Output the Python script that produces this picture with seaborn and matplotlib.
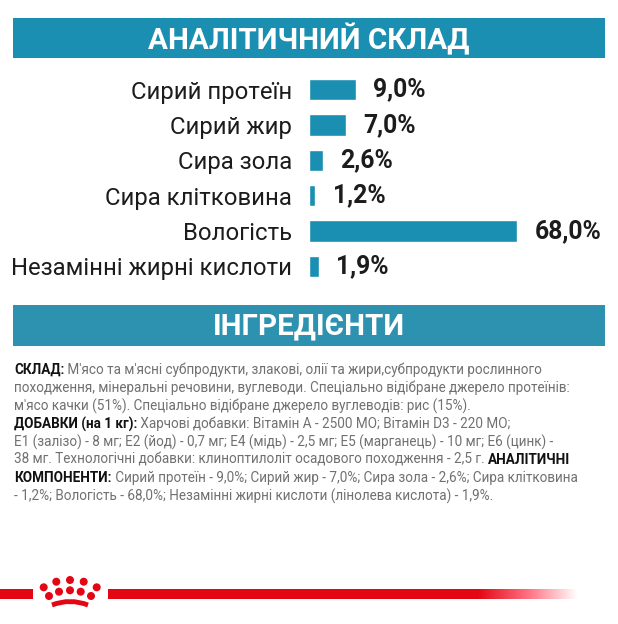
"""
Analytical composition panel: two banners, bar chart, ingredient text, red band.
"""

import numpy as np
import pandas as pd
import matplotlib
matplotlib.use("Agg")
import matplotlib.pyplot as plt
from matplotlib.colors import LinearSegmentedColormap
from matplotlib.patches import Circle, Rectangle, PathPatch
from matplotlib.path import Path
import seaborn as sns

# Chart data
CATEGORIES = [
    "Сирий протеїн",
    "Сирий жир",
    "Сира зола",
    "Сира клітковина",
    "Вологість",
    "Незамінні жирні кислоти",
]
VALUES = [9.0, 7.0, 2.6, 1.2, 68.0, 1.9]
VALUE_LABELS = ["9,0%", "7,0%", "2,6%", "1,2%", "68,0%", "1,9%"]

HEADER_TOP = "АНАЛІТИЧНИЙ СКЛАД"
HEADER_BOTTOM = "ІНГРЕДІЄНТИ"

# Each line is a list of (text, is_bold) runs
BODY_LINES = [
    [("СКЛАД:", True), (" М'ясо та м'ясні субпродукти, злакові, олії та жири,субпродукти рослинного", False)],
    [("походження, мінеральні речовини, вуглеводи. Спеціально відібране джерело протеїнів:", False)],
    [("м'ясо качки (51%). Спеціально відібране джерело вуглеводів: рис (15%).", False)],
    [("ДОБАВКИ (на 1 кг):", True), (" Харчові добавки: Вітамін А - 2500 МО; Вітамін D3 - 220 МО;", False)],
    [("E1 (залізо) - 8 мг; E2 (йод) - 0,7 мг; E4 (мідь) - 2,5 мг; E5 (марганець) - 10 мг; E6 (цинк) -", False)],
    [("38 мг. Технологічні добавки: клиноптилоліт осадового походження - 2,5 г. ", False), ("АНАЛІТИЧНІ", True)],
    [("КОМПОНЕНТИ:", True), (" Сирий протеїн - 9,0%; Сирий жир - 7,0%; Сира зола - 2,6%; Сира клітковина", False)],
    [("- 1,2%; Вологість - 68,0%; Незамінні жирні кислоти (лінолева кислота) - 1,9%.", False)],
]

# Crown dots of the logo, in image pixels
CROWN_DOTS = [
    (43.7, 587.3), (56.3, 581.7), (70.0, 580.0), (83.7, 581.7), (96.7, 587.3),
    (49.0, 596.0), (59.0, 591.7), (70.0, 590.3), (80.7, 591.7), (91.0, 596.0),
]

# Style
WIDTH, HEIGHT = 618, 624
BLUE = "#1a8fb1"
BLUE_SOFT = "#2c92b0"
RED = "#e30613"
GREY = "#707070"
FONT = "Roboto"


def bar_scale(x):
    # The picture's bars are not proportional: 68% is cut short
    return np.interp(x, [0, 9, 68], [0, 47, 208])


def bar_scale_inv(x):
    return np.interp(x, [0, 47, 208], [0, 9, 68])


def draw_bars(fig):
    left, right = 309, 517
    top, bottom = 72, 284
    ax = fig.add_axes([left / WIDTH, 1 - bottom / HEIGHT,
                       (right - left) / WIDTH, (bottom - top) / HEIGHT])
    df = pd.DataFrame({"name": CATEGORIES, "value": VALUES})
    sns.barplot(data=df, y="name", x="value", color=BLUE, saturation=1,
                width=0.6, ax=ax)
    ax.set_xscale("function", functions=(bar_scale, bar_scale_inv))
    ax.set_xlim(0, 68)
    ax.set_xlabel("")
    ax.set_ylabel("")
    sns.despine(ax=ax, left=True, bottom=True)
    ax.set_xticks([])
    ax.minorticks_off()
    ax.tick_params(axis="y", length=0, pad=12, labelsize=17.2, labelcolor="#1c1c1c")
    for tick in ax.get_yticklabels():
        tick.set_fontfamily(FONT)
        tick.set_y(tick.get_position()[1])
    for i, (val, lab) in enumerate(zip(VALUES, VALUE_LABELS)):
        ax.annotate(lab, (val, i), xytext=(12.5, 0), textcoords="offset points",
                    va="center", ha="left", fontsize=17.8, fontweight="bold",
                    family=FONT, color="#1c1c1c", annotation_clip=False)
    return ax


def draw_banner(ax, y0, y1, text, color):
    ax.add_patch(Rectangle((13, y0), 592, y1 - y0, color=color, lw=0))
    ax.text(309, (y0 + y1) / 2 + 1, text, color="white", fontsize=21.3,
            fontweight="bold", family=FONT, ha="center", va="center")


def draw_body(ax, renderer):
    y = 370
    for line in BODY_LINES:
        x = 14
        for run, bold in line:
            t = ax.text(x, y, run, fontsize=9.75, family=FONT, va="center", ha="left",
                        color="#111111" if bold else GREY,
                        fontweight="bold" if bold else "normal")
            # Leading spaces count, so measure the run with a stand-in at each end
            t.set_text("|" + run + "|")
            full = t.get_window_extent(renderer).width
            t.set_text("||")
            bars = t.get_window_extent(renderer).width
            t.set_text(run)
            x += full - bars
        y += 18


def draw_band(ax):
    ax.add_patch(Rectangle((0, 589), 33, 10, color=RED, lw=0))
    ax.add_patch(Rectangle((108, 589), 370, 10, color=RED, lw=0))
    fade = LinearSegmentedColormap.from_list("fade", [RED, "#ff6f80", "#ffffff"])
    ax.imshow(np.linspace(0, 1, 100).reshape(1, -1), cmap=fade, aspect="auto",
              extent=(477, 578, 599, 589), zorder=2)
    for cx, cy in CROWN_DOTS:
        ax.add_patch(Circle((cx, cy), 4.0, color=RED, lw=0))
    arc = Path([(52, 605), (70, 598), (88, 605)], [Path.MOVETO, Path.CURVE3, Path.CURVE3])
    ax.add_patch(PathPatch(arc, fill=False, edgecolor=RED, lw=3.5, capstyle="butt"))


def main():
    sns.set_theme(style="white")
    plt.rcParams["font.family"] = [FONT, "DejaVu Sans"]

    fig = plt.figure(figsize=(WIDTH / 100, HEIGHT / 100), dpi=100)

    # Overlay in image pixels for everything that is not the bar chart
    page = fig.add_axes([0, 0, 1, 1], zorder=0)
    page.set_xlim(0, WIDTH)
    page.set_ylim(HEIGHT, 0)
    page.axis("off")

    draw_banner(page, 18, 58, HEADER_TOP, BLUE)
    draw_banner(page, 305, 346, HEADER_BOTTOM, BLUE_SOFT)
    draw_bars(fig)
    fig.canvas.draw()
    draw_body(page, fig.canvas.get_renderer())
    draw_band(page)
    page.set_xlim(0, WIDTH)
    page.set_ylim(HEIGHT, 0)

    fig.savefig("out.png", dpi=100)


if __name__ == "__main__":
    main()
